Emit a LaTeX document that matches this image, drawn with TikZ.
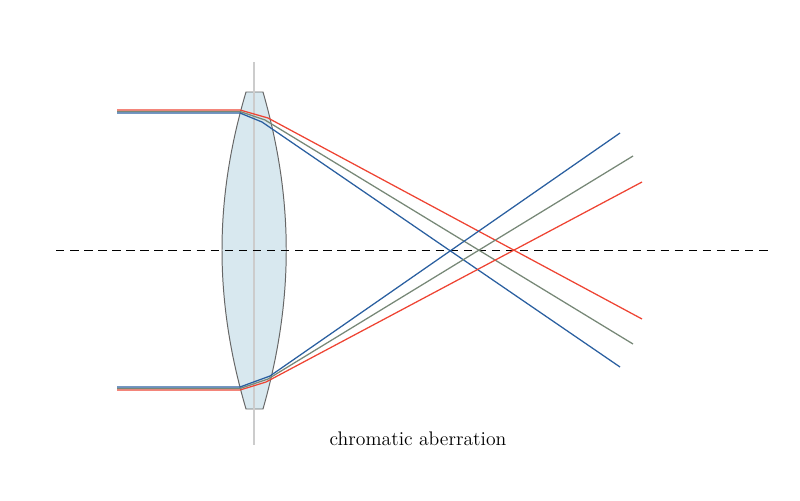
\documentclass[tikz,border=0pt]{standalone}
\usetikzlibrary{positioning}
\definecolor{rayred}{HTML}{EE4433}
\definecolor{raygreen}{HTML}{778877}
\definecolor{rayblue}{HTML}{2A5FA0}
\definecolor{glass}{HTML}{D8E8EF}
\tikzset{
  ray/.style={line width=0.9pt},
  axis/.style={dash pattern=on 6pt off 4pt, line width=0.5pt},
}
\begin{document}
\begin{tikzpicture}[x=0.025cm,y=-0.025cm]
	\useasboundingbox (0,0) rectangle (800,500);
	% lens
	\draw[fill=glass, draw=black!60, line width=0.7pt] (246,92) -- (263,92)
		.. controls (294,200) and (294,300) .. (263,409) -- (246,409)
		.. controls (214,300) and (214,200) .. (246,92) -- cycle;
	\draw[black!20, line width=1pt] (254,62) -- (254,445);
	% optical axis
	\coordinate (axL) at (56,250); \coordinate (axR) at (770,250);
	\draw[axis] (axL) -- (axR);
	% upper rays
	\coordinate (rs1) at (117,110); \coordinate (rl1) at (240,110); \coordinate (rm1) at (268,118); \coordinate (re1) at (642,319);
	\coordinate (gs1) at (117,111.5); \coordinate (gl1) at (240,111.5); \coordinate (gm1) at (265,120); \coordinate (ge1) at (633,344);
	\coordinate (bs1) at (117,113); \coordinate (bl1) at (240,113); \coordinate (bm1) at (262,122); \coordinate (be1) at (620,367);
	\draw[ray, rayred] (rs1) -- (rl1) -- (rm1) -- (re1);
	\draw[ray, raygreen] (gs1) -- (gl1) -- (gm1) -- (ge1);
	\draw[ray, rayblue] (bs1) -- (bl1) -- (bm1) -- (be1);
	% lower rays
	\coordinate (rs2) at (117,390); \coordinate (rl2) at (240,390); \coordinate (rm2) at (266,382); \coordinate (re2) at (642,182);
	\coordinate (gs2) at (117,388.5); \coordinate (gl2) at (240,388.5); \coordinate (gm2) at (268,379); \coordinate (ge2) at (633,156);
	\coordinate (bs2) at (117,387); \coordinate (bl2) at (240,387); \coordinate (bm2) at (270,376); \coordinate (be2) at (620,133);
	\draw[ray, rayred] (rs2) -- (rl2) -- (rm2) -- (re2);
	\draw[ray, raygreen] (gs2) -- (gl2) -- (gm2) -- (ge2);
	\draw[ray, rayblue] (bs2) -- (bl2) -- (bm2) -- (be2);
	\node[font=\fontsize{14}{16}\selectfont] (caption) at (418,439) {chromatic aberration};
\end{tikzpicture}
\end{document}
